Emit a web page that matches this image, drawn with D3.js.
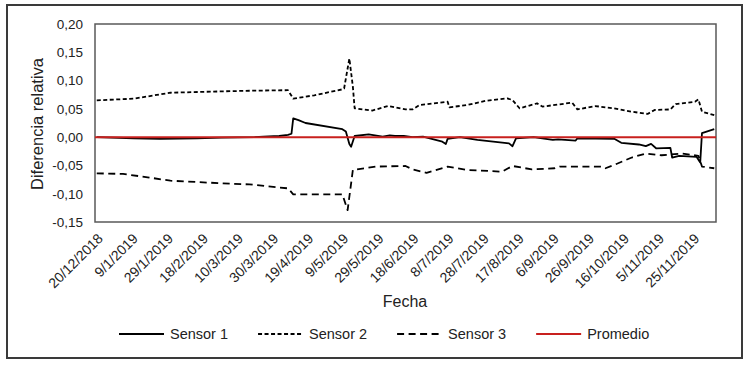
<!DOCTYPE html>
<html>
<head>
<meta charset="utf-8">
<script src="https://cdn.jsdelivr.net/npm/d3@7"></script>
<style>
  html, body { margin: 0; padding: 0; background: #fff; }
  svg { display: block; font-family: "Liberation Sans", Arial, sans-serif; }
</style>
</head>
<body>
<svg id="chart" width="750" height="366"></svg>
<script>
// ---------- DATA ----------
const tickDates = ["2018-12-20","2019-01-09","2019-01-29","2019-02-18","2019-03-10","2019-03-30",
  "2019-04-19","2019-05-09","2019-05-29","2019-06-18","2019-07-08","2019-07-28","2019-08-17",
  "2019-09-06","2019-09-26","2019-10-16","2019-11-05","2019-11-25"];
const yTicks = [-0.15, -0.10, -0.05, 0.00, 0.05, 0.10, 0.15, 0.20];

const sensor1Dates = ["2018-12-20","2019-01-10","2019-01-25","2019-02-15","2019-03-01","2019-03-20","2019-03-25",
  "2019-04-03","2019-04-08","2019-04-10","2019-04-11","2019-04-14","2019-04-18","2019-05-09","2019-05-11",
  "2019-05-13","2019-05-14","2019-05-16","2019-05-24","2019-06-01","2019-06-05","2019-06-08","2019-06-13",
  "2019-06-18","2019-06-24","2019-07-05","2019-07-07","2019-07-08","2019-07-15","2019-07-25","2019-08-12",
  "2019-08-14","2019-08-16","2019-08-26","2019-09-06","2019-09-09","2019-09-19","2019-09-20","2019-10-11",
  "2019-10-15","2019-10-25","2019-10-29","2019-11-01","2019-11-04","2019-11-12","2019-11-13","2019-11-17",
  "2019-11-27","2019-11-28","2019-11-29","2019-11-30","2019-12-07"];
const sensor1Values = [0.000,-0.002,-0.003,-0.002,-0.001,0.000,0.001,
  0.002,0.004,0.006,0.033,0.030,0.025,0.014,0.010,
  -0.012,-0.017,0.002,0.005,0.001,0.003,0.002,0.002,
  0.000,0.001,-0.008,-0.012,-0.003,0.000,-0.005,-0.011,
  -0.016,-0.002,0.000,-0.005,-0.004,-0.006,-0.002,-0.003,
  -0.010,-0.013,-0.016,-0.012,-0.020,-0.019,-0.036,-0.033,
  -0.035,-0.040,-0.045,0.007,0.014];

const sensor2Dates = ["2018-12-20","2019-01-10","2019-01-31","2019-03-02","2019-03-17","2019-04-08","2019-04-11",
  "2019-04-23","2019-05-09","2019-05-10","2019-05-13","2019-05-15","2019-05-16","2019-05-26","2019-06-04",
  "2019-06-14","2019-06-18","2019-06-22","2019-07-08","2019-07-09","2019-07-19","2019-07-30","2019-08-11",
  "2019-08-14","2019-08-18","2019-08-28","2019-08-31","2019-09-10","2019-09-17","2019-09-20","2019-09-30",
  "2019-10-06","2019-10-11","2019-10-21","2019-10-30","2019-11-03","2019-11-12","2019-11-15","2019-11-26",
  "2019-11-28","2019-11-30","2019-12-07"];
const sensor2Values = [0.065,0.068,0.0785,0.081,0.082,0.083,0.068,
  0.074,0.0845,0.086,0.139,0.089,0.051,0.047,0.055,
  0.049,0.049,0.0567,0.0626,0.0527,0.0567,0.0644,0.0686,
  0.0656,0.051,0.0597,0.054,0.058,0.061,0.049,0.055,
  0.0527,0.051,0.045,0.041,0.048,0.049,0.0585,0.0626,
  0.0668,0.045,0.039];

const sensor3Dates = ["2018-12-20","2019-01-04","2019-01-18","2019-01-31","2019-03-02","2019-03-17","2019-04-08",
  "2019-04-11","2019-05-09","2019-05-12","2019-05-15","2019-05-28","2019-06-14","2019-06-18","2019-06-26",
  "2019-07-08","2019-07-19","2019-08-08","2019-08-14","2019-08-25","2019-09-07","2019-09-10","2019-09-23",
  "2019-10-04","2019-10-06","2019-10-11","2019-10-21","2019-10-29","2019-11-07","2019-11-19","2019-11-28",
  "2019-11-30","2019-12-07"];
const sensor3Values = [-0.064,-0.065,-0.071,-0.077,-0.0817,-0.0835,-0.0905,
  -0.101,-0.101,-0.129,-0.058,-0.052,-0.051,-0.057,-0.063,
  -0.052,-0.058,-0.061,-0.051,-0.057,-0.055,-0.052,-0.052,
  -0.052,-0.055,-0.049,-0.036,-0.029,-0.032,-0.029,-0.033,
  -0.052,-0.055];

const promedioDates = ["2018-12-19","2019-12-08"];
const promedioValues = [0, 0];

const seriesNames = ["Sensor 1", "Sensor 2", "Sensor 3", "Promedio"];

// ---------- CHART ----------
const parse = d3.timeParse("%Y-%m-%d");
const fmt = d3.timeFormat("%-d/%-m/%Y");
const yFmt = d => d3.format(".2f")(d).replace(".", ",").replace("−", "-");

const svg = d3.select("#chart");
const plot = { left: 95, right: 716, top: 24, bottom: 222 };

const x = d3.scaleTime()
  .domain([parse("2018-12-19"), parse("2019-12-08")])
  .range([plot.left, plot.right]);
const y = d3.scaleLinear().domain([-0.15, 0.20]).range([plot.bottom, plot.top]);

// outer border
svg.append("rect").attr("x", 7).attr("y", 5).attr("width", 735).attr("height", 353)
  .attr("fill", "none").attr("stroke", "#3a3a3a").attr("stroke-width", 2);

// plot border
svg.append("rect").attr("x", plot.left).attr("y", plot.top)
  .attr("width", plot.right - plot.left).attr("height", plot.bottom - plot.top)
  .attr("fill", "none").attr("stroke", "#595959").attr("stroke-width", 1.5);

// y axis labels
const yAxis = d3.axisLeft(y).tickValues(yTicks).tickFormat(yFmt).tickSize(0).tickPadding(12);
const gy = svg.append("g").attr("transform", `translate(${plot.left},0)`).call(yAxis);
gy.select(".domain").remove();
gy.selectAll("text").attr("font-size", 13.5).attr("fill", "#222")
  .attr("font-family", "'Liberation Sans', Arial, sans-serif");

// x axis labels
const xAxis = d3.axisBottom(x).tickValues(tickDates.map(parse)).tickFormat(fmt).tickSize(0).tickPadding(0);
const gx = svg.append("g").attr("transform", `translate(0,${plot.bottom})`).call(xAxis);
gx.select(".domain").remove();
gx.selectAll("text")
  .attr("font-size", 14).attr("fill", "#222")
  .attr("font-family", "'Liberation Sans', Arial, sans-serif")
  .attr("text-anchor", "end")
  .attr("dy", "0.35em")
  .attr("transform", "translate(3,14) rotate(-45)");

// axis titles
svg.append("text").attr("x", 405).attr("y", 307).attr("text-anchor", "middle")
  .attr("font-size", 16).attr("fill", "#222").text("Fecha");
svg.append("text").attr("transform", "translate(43,124) rotate(-90)").attr("text-anchor", "middle")
  .attr("font-size", 16.5).attr("fill", "#222").text("Diferencia relativa");

// lines
const line = d3.line().x(d => x(d[0])).y(d => y(d[1]));
const zipS = (ds, vs) => ds.map((d, i) => [parse(d), vs[i]]);

const styles = [
  { stroke: "#000", dash: null, width: 1.8 },
  { stroke: "#000", dash: "4,2.5", width: 1.8 },
  { stroke: "#000", dash: "7,4.5", width: 1.8 },
  { stroke: "#c8201e", dash: null, width: 2 }
];
const allSeries = [
  zipS(sensor1Dates, sensor1Values),
  zipS(sensor2Dates, sensor2Values),
  zipS(sensor3Dates, sensor3Values),
  zipS(promedioDates, promedioValues)
];
[1, 2, 0, 3].forEach(i => {
  svg.append("path").datum(allSeries[i])
    .attr("d", line).attr("fill", "none")
    .attr("stroke", styles[i].stroke).attr("stroke-width", styles[i].width)
    .attr("stroke-dasharray", styles[i].dash)
    .attr("stroke-linejoin", "round");
});

// legend
const legend = svg.append("g").attr("transform", "translate(0,334)");
let lx = 119;
seriesNames.forEach((name, i) => {
  legend.append("line").attr("x1", lx).attr("x2", lx + 45).attr("y1", 0).attr("y2", 0)
    .attr("stroke", styles[i].stroke).attr("stroke-width", styles[i].width)
    .attr("stroke-dasharray", styles[i].dash);
  const t = legend.append("text").attr("x", lx + 51).attr("y", 0).attr("dy", "0.35em")
    .attr("font-size", 14.5).attr("fill", "#222").text(name);
  lx += 51 + t.node().getComputedTextLength() + 30;
});
</script>
</body>
</html>
